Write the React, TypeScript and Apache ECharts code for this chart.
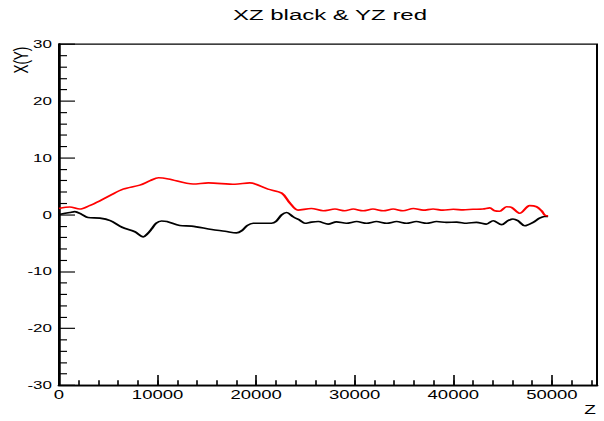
import React, { useEffect, useRef } from "react";
import * as echarts from "echarts";

// ---- data ----
const TITLE = "XZ black & YZ red";
const X_NAME = "Z";
const Y_NAME = "X(Y)";

const Z_XZ = [
  0, 1100, 1600, 2300, 2950, 4150, 5200, 6400, 7700, 8550, 8950, 9400, 9850,
  10400, 10950, 12250, 13450, 15500, 16850, 18000, 18550, 19100, 19700, 20600,
  21550, 22000, 22600, 23100, 23750, 24450, 24950, 25600, 26300, 27300, 28150,
  29150, 30200, 31200, 32200, 33250, 34250, 35250, 36250, 37300, 38300, 39300,
  40350, 41350, 42350, 43350, 44050, 44900, 45550, 46050, 46550, 47250, 48100,
  48750, 49250, 49620,
];
const XZ = [
  0.05, 0.4, 0.55, 0.05, -0.5, -0.6, -1.05, -2.2, -3.0, -3.9, -3.4, -2.5, -1.5,
  -1.1, -1.2, -1.9, -2.0, -2.6, -2.9, -3.2, -2.8, -1.9, -1.5, -1.5,
  -1.5, -1.2, 0.0, 0.4, -0.35, -1.0, -1.5, -1.3, -1.2, -1.65, -1.25,
  -1.5, -1.2, -1.5, -1.2, -1.5, -1.2, -1.5, -1.2, -1.5, -1.2, -1.35,
  -1.3, -1.5, -1.35, -1.65, -1.05, -1.75, -1.05, -0.75, -1.05, -1.95, -1.35,
  -0.6, -0.3, -0.3,
];

const Z_YZ = [
  0, 1100, 2100, 3100, 4150, 5200, 6500, 8200, 9250, 10100, 11100, 13600, 15150,
  17850, 19350, 21200, 22600, 23400, 24250, 25600, 26800, 28000, 29000, 29850,
  30850, 31850, 32900, 33900, 34900, 35950, 36950, 37950, 38950, 40000, 41000,
  42000, 43000, 43700, 44200, 44700, 45400, 45900, 46750, 47750, 48450, 48950,
  49300, 49620,
];
const YZ = [
  1.1, 1.35, 1.0, 1.6, 2.45, 3.4, 4.5, 5.2, 6.0, 6.5, 6.3, 5.4, 5.6,
  5.35, 5.6, 4.5, 3.8, 2.1, 0.8, 1.1, 0.7, 1.0, 0.7, 1.0,
  0.7, 1.0, 0.7, 1.0, 0.7, 1.1, 0.8, 1.0, 0.8, 0.95, 0.85,
  0.95, 1.0, 1.2, 0.7, 0.6, 1.4, 1.3, 0.25, 1.6, 1.4, 0.7,
  -0.1, -0.2,
];

const X_MIN = 0;
const X_MAX = 54580;
const X_MAJOR = 10000;
const X_MINOR = 2000;
const Y_MIN = -30;
const Y_MAX = 30;
const Y_MAJOR = 10;

// ---- layout ----
const W = 604;
const H = 421;
const S = 0.64; // vertical squash of the original rendering
const HI = Math.round(H / S);
const FONT = "Liberation Sans, Arial, Helvetica, sans-serif";

export default function App() {
  const ref = useRef<HTMLDivElement>(null);

  useEffect(() => {
    if (!ref.current) return;
    const chart = echarts.init(ref.current, undefined, { renderer: "svg" });
    const xz = Z_XZ.map((z, i) => [z, XZ[i]]);
    const yz = Z_YZ.map((z, i) => [z, YZ[i]]);

    chart.setOption({
      animation: false,
      backgroundColor: "#ffffff",
      title: {
        text: TITLE,
        left: 325,
        top: 6,
        textAlign: "center",
        textStyle: {
          fontFamily: FONT,
          fontSize: 24,
          fontWeight: "normal",
          color: "#000",
        },
      },
      grid: {
        left: 59,
        right: 7,
        top: 69,
        bottom: 56,
        show: true,
        borderColor: "#000",
        borderWidth: 2,
        backgroundColor: "transparent",
      },
      xAxis: [
        {
          type: "value",
          position: "bottom",
          min: X_MIN,
          max: X_MAX,
          interval: X_MAJOR,
          axisLine: { show: true, onZero: false, lineStyle: { color: "#000", width: 3 } },
          axisTick: { show: true, inside: true, length: 16, lineStyle: { color: "#000", width: 1.6 } },
          axisLabel: {
            show: true,
            margin: 5,
            showMaxLabel: false,
            color: "#000",
            fontFamily: FONT,
            fontSize: 18.5,
            formatter: (v: number) => String(v),
          },
          splitLine: { show: false },
        },
        {
          type: "value",
          position: "bottom",
          min: X_MIN,
          max: X_MAX,
          interval: X_MINOR,
          axisLine: { show: false, onZero: false },
          axisTick: { show: true, inside: true, length: 8, lineStyle: { color: "#000", width: 1.6 } },
          axisLabel: { show: false },
          splitLine: { show: false },
        },
      ],
      yAxis: {
        type: "value",
        min: Y_MIN,
        max: Y_MAX,
        interval: Y_MAJOR,
        axisLine: { show: true, onZero: false, lineStyle: { color: "#000", width: 2.5 } },
        axisTick: { show: true, inside: true, length: 16, lineStyle: { color: "#000", width: 1.8 } },
        minorTick: { show: true, splitNumber: 5, length: 8, lineStyle: { color: "#000", width: 1.8 } },
        axisLabel: {
          margin: 7,
          color: "#000",
          fontFamily: FONT,
          fontSize: 17,
          formatter: (v: number) => String(v),
        },
        splitLine: { show: false },
        minorSplitLine: { show: false },
      },
      graphic: [
        {
          type: "text",
          x: 20.5,
          y: 73,
          rotation: Math.PI / 2,
          style: {
            text: Y_NAME,
            align: "right",
            verticalAlign: "middle",
            fontFamily: FONT,
            fontSize: 21,
            fill: "#000",
          },
        },
        {
          type: "text",
          x: 590,
          y: 641,
          style: {
            text: X_NAME,
            align: "center",
            verticalAlign: "middle",
            fontFamily: FONT,
            fontSize: 19,
            fill: "#000",
          },
        },
      ],
      series: [
        {
          name: "XZ",
          type: "line",
          xAxisIndex: 0,
          data: xz,
          showSymbol: false,
          symbol: "none",
          smooth: 0.3,
          lineStyle: { color: "#000", width: 2.5 },
        },
        {
          name: "YZ",
          type: "line",
          xAxisIndex: 0,
          data: yz,
          showSymbol: false,
          symbol: "none",
          smooth: 0.3,
          lineStyle: { color: "#ff0000", width: 2.5 },
        },
      ],
    });

    return () => chart.dispose();
  }, []);

  return (
    <div
      style={{
        position: "absolute",
        left: 0,
        top: 0,
        width: W,
        height: H,
        overflow: "hidden",
        background: "#fff",
      }}
    >
      <div
        ref={ref}
        style={{
          width: W,
          height: HI,
          transform: `scaleY(${S})`,
          transformOrigin: "0 0",
        }}
      />
    </div>
  );
}
